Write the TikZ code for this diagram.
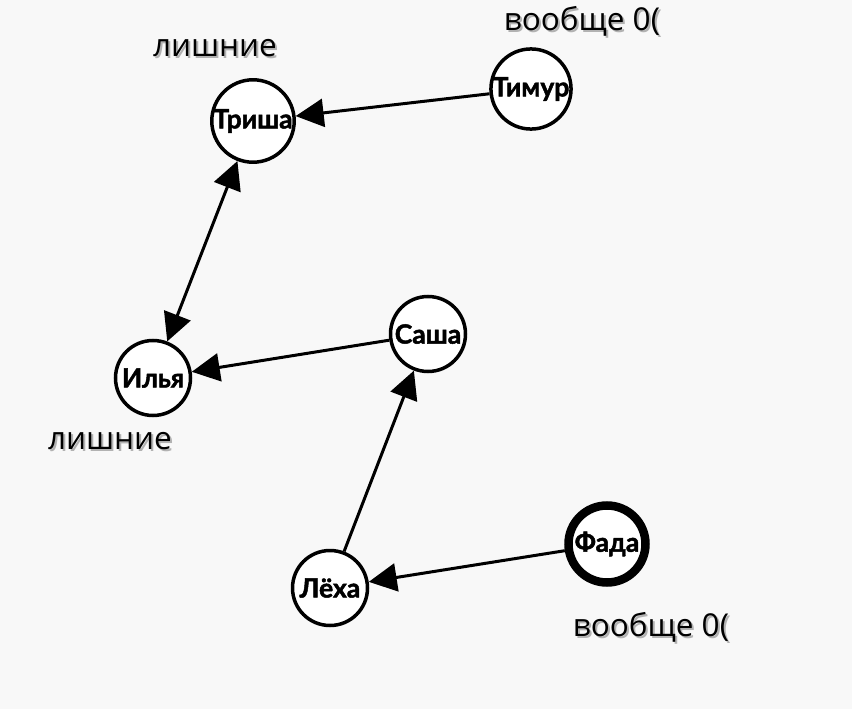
\documentclass[tikz,border=0pt]{standalone}
\usepackage{fontspec}
\setmainfont{Open Sans}
\newfontfamily\nodefont[BoldFeatures={FakeBold=1.8}]{Lato}
\usetikzlibrary{arrows.meta}
\definecolor{bg}{HTML}{F8F8F8}
\newcommand{\shadowed}[1]{\rlap{\hspace{2pt}\raisebox{-2pt}{\textcolor{black!30}{#1}}}#1}
\tikzset{
  person/.style={circle, draw=black, fill=white, line width=3.5pt, minimum size=75pt, inner sep=0pt,
    font=\nodefont\bfseries\fontsize{26.5}{27}\selectfont},
  busy/.style={person, line width=8.5pt, minimum size=77pt},
  link/.style={line width=3pt, -{Triangle[length=28pt,width=28pt]}},
  dlink/.style={line width=3pt, {Triangle[length=28pt,width=28pt]}-{Triangle[length=28pt,width=28pt]}},
  tag/.style={font=\fontsize{31.5}{32}\selectfont, text=black, inner sep=0pt},
}
\begin{document}
\begin{tikzpicture}[x=1pt,y=-1pt]
\fill[bg] (0,0) rectangle (852,709);
\useasboundingbox (0,0) rectangle (852,709);
\node[person] (trisha) at (253,121) {Триша};
\node[person] (timur) at (531,89) {Тимур};
\node[person] (ilya) at (153,378) {Илья};
\node[person] (sasha) at (428,334) {Саша};
\node[person] (lekha) at (330,588) {Лёха};
\node[busy] (fada) at (607,544) {Фада};
\draw[link] (timur) -- (trisha);
\draw[dlink] (trisha) -- (ilya);
\draw[link] (sasha) -- (ilya);
\draw[link] (lekha) -- (sasha);
\draw[link] (fada) -- (lekha);
\node[tag] (t1) at (215,49) {\shadowed{лишние}};
\node[tag] (t2) at (582,22) {\shadowed{вообще 0(}};
\node[tag] (t3) at (110,442) {\shadowed{лишние}};
\node[tag] (t4) at (651,628) {\shadowed{вообще 0(}};
\end{tikzpicture}
\end{document}
